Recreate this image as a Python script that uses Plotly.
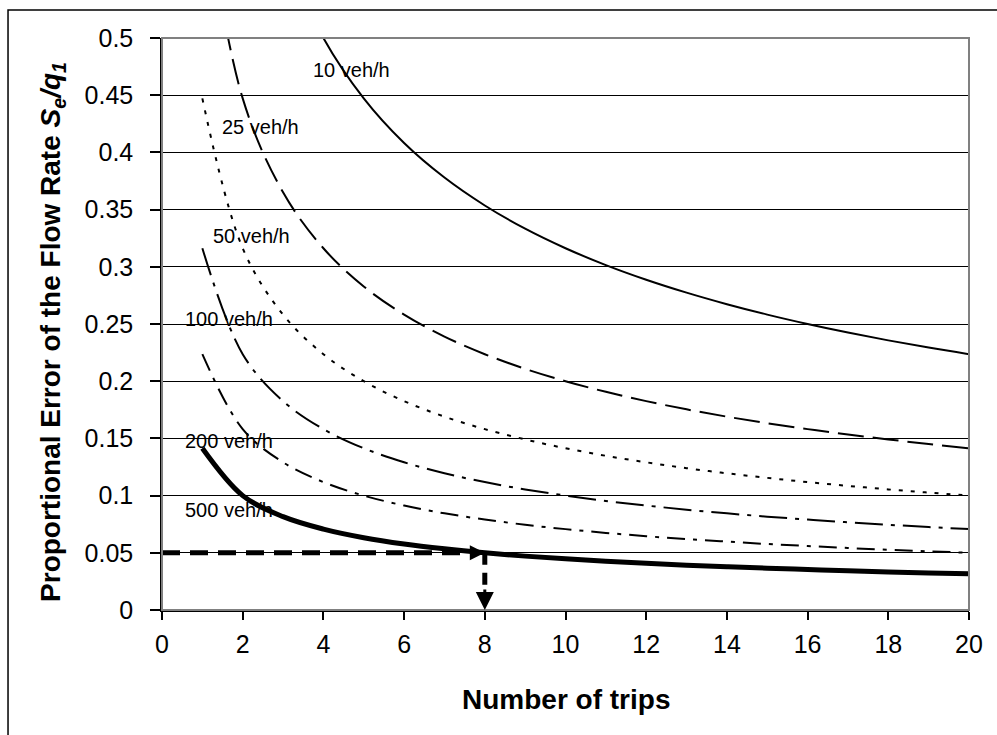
import plotly.graph_objects as go

# ---------------- data ----------------
trips = [1, 2, 3, 4, 5, 6, 7, 8, 9, 10, 11, 12, 13, 14, 15, 16, 17, 18, 19, 20]

err_10 = [1.0000, 0.7071, 0.5774, 0.5000, 0.4472, 0.4082, 0.3780, 0.3536, 0.3333, 0.3162,
          0.3015, 0.2887, 0.2774, 0.2673, 0.2582, 0.2500, 0.2425, 0.2357, 0.2294, 0.2236]
err_25 = [0.6325, 0.4472, 0.3651, 0.3162, 0.2828, 0.2582, 0.2390, 0.2236, 0.2108, 0.2000,
          0.1907, 0.1826, 0.1754, 0.1690, 0.1633, 0.1581, 0.1534, 0.1491, 0.1451, 0.1414]
err_50 = [0.4472, 0.3162, 0.2582, 0.2236, 0.2000, 0.1826, 0.1690, 0.1581, 0.1491, 0.1414,
          0.1348, 0.1291, 0.1240, 0.1195, 0.1155, 0.1118, 0.1085, 0.1054, 0.1026, 0.1000]
err_100 = [0.3162, 0.2236, 0.1826, 0.1581, 0.1414, 0.1291, 0.1195, 0.1118, 0.1054, 0.1000,
           0.0953, 0.0913, 0.0877, 0.0845, 0.0816, 0.0791, 0.0767, 0.0745, 0.0725, 0.0707]
err_200 = [0.2236, 0.1581, 0.1291, 0.1118, 0.1000, 0.0913, 0.0845, 0.0791, 0.0745, 0.0707,
           0.0674, 0.0645, 0.0620, 0.0598, 0.0577, 0.0559, 0.0542, 0.0527, 0.0513, 0.0500]
err_500 = [0.1414, 0.1000, 0.0816, 0.0707, 0.0632, 0.0577, 0.0535, 0.0500, 0.0471, 0.0447,
           0.0426, 0.0408, 0.0392, 0.0378, 0.0365, 0.0354, 0.0343, 0.0333, 0.0324, 0.0316]

flow_labels = ["10 veh/h", "25 veh/h", "50 veh/h", "100 veh/h", "200 veh/h", "500 veh/h"]
label_x = [4.70, 2.45, 2.21, 1.67, 1.67, 1.67]
label_y = [0.472, 0.422, 0.327, 0.2545, 0.148, 0.087]

target_trips = 8
target_error = 0.05

x_ticks = [0, 2, 4, 6, 8, 10, 12, 14, 16, 18, 20]
y_ticks = [0, 0.05, 0.1, 0.15, 0.2, 0.25, 0.3, 0.35, 0.4, 0.45, 0.5]
y_tick_text = ["0", "0.05", "0.1", "0.15", "0.2", "0.25", "0.3", "0.35", "0.4", "0.45", "0.5"]

FONT = "Liberation Sans, Arial, Helvetica, sans-serif"

series = [
    (err_10, dict(color="black", width=2, dash="solid")),
    (err_25, dict(color="black", width=2, dash="26px,9px")),
    (err_50, dict(color="black", width=2, dash="4px,8px")),
    (err_100, dict(color="black", width=2, dash="28px,8px,4px,8px")),
    (err_200, dict(color="black", width=2, dash="18px,8px,4px,8px")),
    (err_500, dict(color="black", width=5, dash="solid")),
]

fig = go.Figure()
for vals, ln in series:
    fig.add_trace(go.Scatter(x=trips, y=vals, mode="lines",
                             line=dict(shape="spline", smoothing=1.0, **ln),
                             showlegend=False, hoverinfo="skip"))

# dashed reading lines
fig.add_trace(go.Scatter(x=[0, target_trips - 0.25], y=[target_error, target_error], mode="lines",
                         line=dict(color="black", width=5, dash="18px,10px"),
                         showlegend=False, hoverinfo="skip"))
fig.add_trace(go.Scatter(x=[target_trips, target_trips], y=[target_error, 0.012], mode="lines",
                         line=dict(color="black", width=5, dash="12px,8px"),
                         showlegend=False, hoverinfo="skip"))

annotations = []
for t, lx, ly in zip(flow_labels, label_x, label_y):
    annotations.append(dict(x=lx, y=ly, text=t, showarrow=False,
                            xanchor="center", yanchor="middle",
                            font=dict(family=FONT, size=20, color="black")))

# arrow heads
annotations.append(dict(x=target_trips, y=target_error, ax=-14, ay=0, text="",
                        showarrow=True, arrowhead=2, arrowsize=1.2, arrowwidth=2.5,
                        arrowcolor="black", standoff=0))
annotations.append(dict(x=target_trips, y=0, ax=0, ay=-22, text="",
                        showarrow=True, arrowhead=2, arrowsize=1.2, arrowwidth=3,
                        arrowcolor="black", standoff=0))

# axis titles
annotations.append(dict(xref="paper", yref="paper", x=0.5, y=-0.157,
                        xanchor="center", yanchor="middle",
                        text="<b>Number of trips</b>", showarrow=False,
                        font=dict(family=FONT, size=28, color="black")))
annotations.append(dict(xref="paper", yref="paper", x=-0.1357, y=0.487, textangle=-90,
                        xanchor="center", yanchor="middle",
                        text="<b>Proportional Error of the Flow Rate <i>S<sub>e</sub>/q<sub>1</sub></i></b>",
                        showarrow=False,
                        font=dict(family=FONT, size=28, color="black")))

fig.update_layout(
    width=997, height=735,
    margin=dict(l=162, r=28, t=38, b=125),
    paper_bgcolor="white", plot_bgcolor="white",
    font=dict(family=FONT, color="black"),
    annotations=annotations,
    shapes=[
        dict(type="rect", xref="paper", yref="paper", x0=-0.1908, x1=1.04, y0=-0.23, y1=1.049,
             line=dict(color="black", width=1.5), fillcolor="rgba(0,0,0,0)", layer="below"),
        dict(type="rect", xref="paper", yref="paper", x0=0, x1=1, y0=0, y1=1,
             line=dict(color="#808080", width=2), fillcolor="rgba(0,0,0,0)", layer="above"),
    ],
)

fig.update_xaxes(range=[0, 20], tickvals=x_ticks, ticks="outside", ticklen=8, tickwidth=1.5,
                 tickcolor="black", showline=True, linecolor="black", linewidth=1.5,
                 showgrid=False, zeroline=False, tickfont=dict(family=FONT, size=25),
                 ticklabelstandoff=3)
fig.update_yaxes(range=[0, 0.5], tickvals=y_ticks, ticktext=y_tick_text, ticks="outside",
                 ticklen=10, tickwidth=1.5, tickcolor="black", showline=True, linecolor="black",
                 linewidth=1.5, showgrid=True, gridcolor="black", gridwidth=1, zeroline=False,
                 tickfont=dict(family=FONT, size=25), ticklabelstandoff=12)

fig.write_html("out.html", config={"displayModeBar": False},
               post_script="document.body.style.margin='0px';document.body.style.overflow='hidden';")
